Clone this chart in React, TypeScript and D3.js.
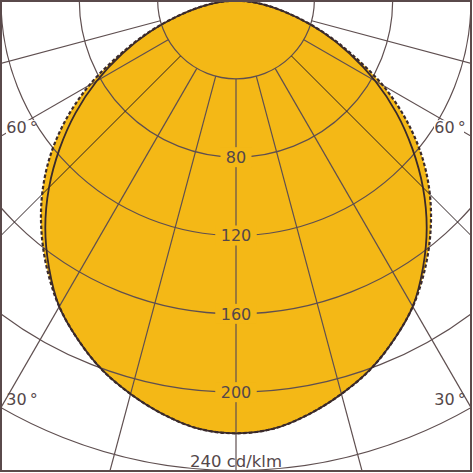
import React, { useEffect, useRef } from "react";
import * as d3 from "d3";

// polar angles from nadir (deg) and intensities in cd/klm
const angles = [0, 5, 10, 15, 20, 25, 30, 35, 40, 45, 50, 55, 60, 65, 70, 75, 80, 85, 90];
const intensityC0 = [221, 219.5, 214.5, 208, 200.5, 191, 180.5, 166.5, 151.5, 135, 117.5, 100, 82, 64, 47, 31, 18, 8, 0];
const intensityC90 = [221, 219.5, 214.5, 208, 200.5, 191, 180.5, 168, 154.5, 140, 124, 106, 86.5, 65.5, 47.5, 31, 18, 8, 0];

const ringValues = [40, 80, 120, 160, 200, 240];
const ringLabels = ["80", "120", "160", "200"];
const unitLabel = "240 cd/klm";
const spokeAngles = [0, 15, 30, 45, 60, 75, 90, 105, 120, 135, 150, 165, 180];
const angleLabels = [60, 30];

const width = 473;
const height = 473;
const cx = 236;
const cy = 0.5;
const font = "'DejaVu Sans', sans-serif";
const yellow = "#f4b816";
const gridColor = "#5f4f50";
const inkColor = "#3a2a2b";
const textColor = "#54474a";

const rad = (deg: number) => (deg * Math.PI) / 180;

const App = () => {
  const svgRef = useRef(null);

  useEffect(() => {
    const svgEl = svgRef.current;
    const svg = d3.select(svgEl);
    svg.selectAll("*").remove();

    const r = d3.scaleLinear().domain([0, 240]).range([0, 470]);

    svg
      .append("defs")
      .append("clipPath")
      .attr("id", "frame-clip")
      .append("rect")
      .attr("x", 1)
      .attr("y", 1)
      .attr("width", 470)
      .attr("height", 470);

    svg.append("rect").attr("width", width).attr("height", height).attr("fill", "#fff");

    const g = svg.append("g").attr("clip-path", "url(#frame-clip)");
    const plot = g.append("g").attr("transform", `translate(${cx},${cy})`);

    // closed curve: right side (theta 90..0) then left side (5..90)
    const toPoints = (values: number[]) => {
      const right = angles.map((t, i) => [Math.PI - rad(t), r(values[i])]).reverse();
      const left = angles.slice(1).map((t, i) => [Math.PI + rad(t), r(values[i + 1])]);
      return [...right, ...left];
    };

    const line = d3
      .lineRadial<number[]>()
      .angle((d) => d[0])
      .radius((d) => d[1])
      .curve(d3.curveCatmullRom.alpha(0.5));

    const c0Path = line(toPoints(intensityC0)) + "Z";
    const c90Path = line(toPoints(intensityC90)) + "Z";

    plot.append("path").attr("d", c90Path).attr("fill", yellow);
    plot.append("path").attr("d", c0Path).attr("fill", yellow);

    // rings
    plot
      .selectAll(".ring")
      .data(ringValues)
      .join("circle")
      .attr("class", "ring")
      .attr("r", (d) => r(d))
      .attr("fill", "none")
      .attr("stroke", gridColor)
      .attr("stroke-width", 1.2);

    // spokes, both sides of nadir
    const spokes = spokeAngles.flatMap((a) => (a === 0 || a === 180 ? [a] : [a, -a]));
    plot
      .selectAll(".spoke")
      .data(spokes)
      .join("line")
      .attr("class", "spoke")
      .attr("x1", (d) => -r(40) * Math.sin(rad(d)))
      .attr("y1", (d) => r(40) * Math.cos(rad(d)))
      .attr("x2", (d) => -700 * Math.sin(rad(d)))
      .attr("y2", (d) => 700 * Math.cos(rad(d)))
      .attr("stroke", (d) => (Math.abs(d) === 45 ? "#2e2224" : gridColor))
      .attr("stroke-width", (d) => (Math.abs(d) === 45 ? 1 : 1.2));

    // outlines
    plot
      .append("path")
      .attr("d", c90Path)
      .attr("fill", "none")
      .attr("stroke", inkColor)
      .attr("stroke-width", 2.2)
      .attr("stroke-dasharray", "3.5,2.2");
    plot
      .append("path")
      .attr("d", c0Path)
      .attr("fill", "none")
      .attr("stroke", inkColor)
      .attr("stroke-width", 1.8);

    // ring labels on the nadir axis
    const labels = plot
      .selectAll(".ring-label")
      .data(ringLabels)
      .join("g")
      .attr("class", "ring-label")
      .attr("transform", (d) => `translate(0,${r(+d)})`);
    labels
      .append("rect")
      .attr("x", (d) => -(d.length * 10.5 + 10) / 2)
      .attr("y", -10)
      .attr("width", (d) => d.length * 10.5 + 10)
      .attr("height", 20)
      .attr("fill", yellow);
    labels
      .append("text")
      .attr("text-anchor", "middle")
      .attr("dy", "0.36em")
      .attr("font-family", font)
      .attr("font-size", 16)
      .attr("fill", textColor)
      .text((d) => d);

    plot
      .append("text")
      .attr("x", 0)
      .attr("y", 466.5)
      .attr("text-anchor", "middle")
      .attr("font-family", font)
      .attr("font-size", 16.5)
      .attr("fill", textColor)
      .text(unitLabel);

    // angle labels near the frame edge
    angleLabels.forEach((a) => {
      const yEdge = 235 / Math.tan(rad(a)) - 3;
      [-1, 1].forEach((side) => {
        const lg = plot.append("g").attr("transform", `translate(${side * 214},${yEdge})`);
        if (a === 60) {
          lg.append("rect")
            .attr("x", -16)
            .attr("y", -13)
            .attr("width", 30)
            .attr("height", 15)
            .attr("fill", "#fff");
        }
        lg.append("text")
          .attr("text-anchor", "middle")
          .attr("font-family", font)
          .attr("font-size", 16)
          .attr("fill", textColor)
          .text(`${a}\u2009°`);
      });
    });

    // frame
    svg
      .append("rect")
      .attr("x", 1)
      .attr("y", 1)
      .attr("width", 470)
      .attr("height", 470)
      .attr("fill", "none")
      .attr("stroke", "#5a4a4b")
      .attr("stroke-width", 2);
  }, []);

  return (
    <svg
      ref={svgRef}
      width={width}
      height={height}
      style={{ position: "absolute", left: 0, top: 0, display: "block" }}
    ></svg>
  );
};

export default App;
